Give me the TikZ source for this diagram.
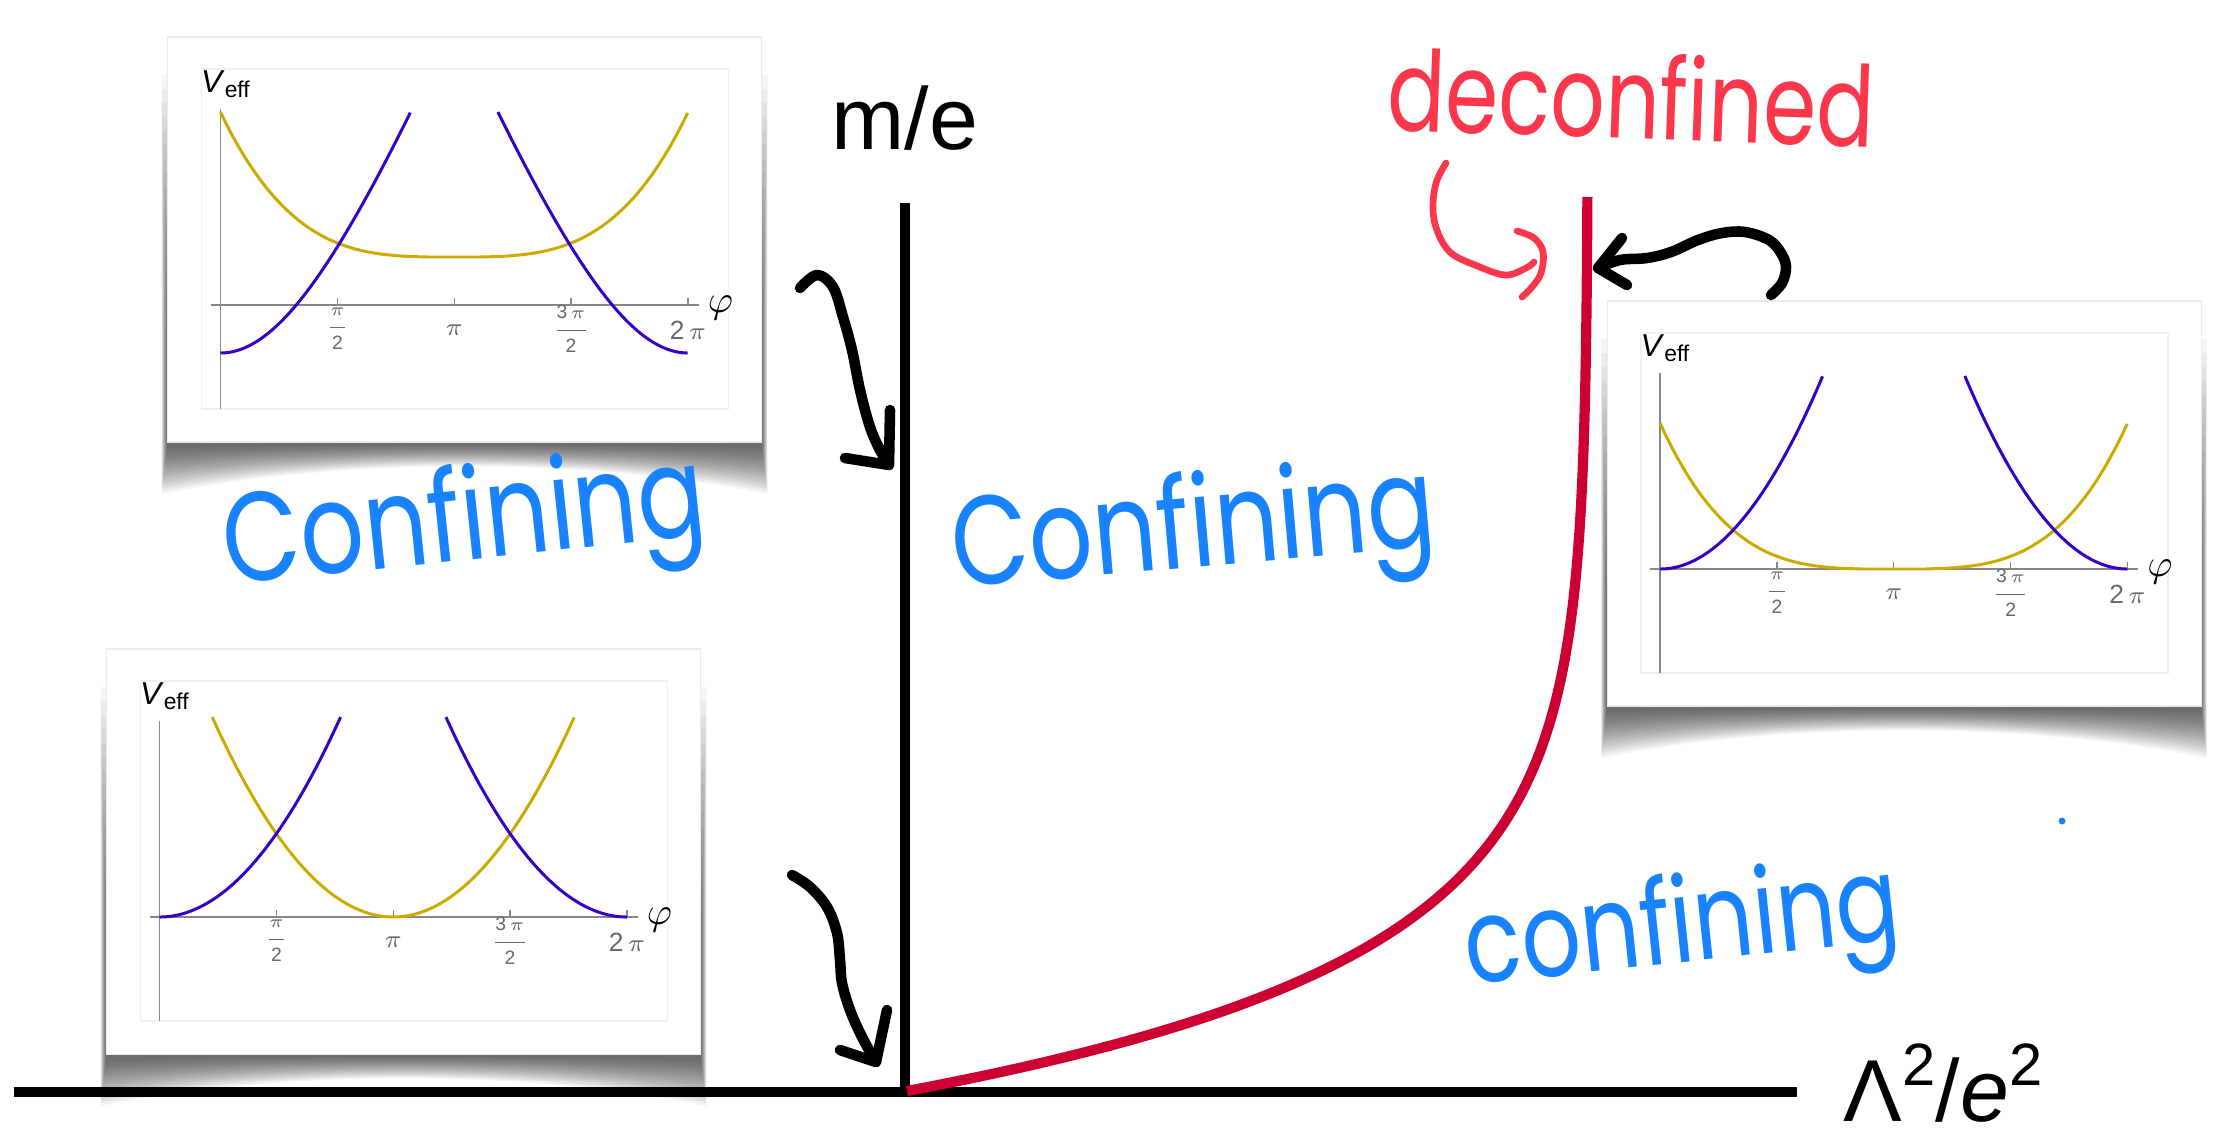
\documentclass[tikz,border=0pt]{standalone}
\usepackage{fontspec}
\setmainfont{Liberation Sans}
\newfontfamily\handfont{Poppins}
\definecolor{redcurve}{RGB}{204,0,51}
\definecolor{hand}{RGB}{25,130,255}
\definecolor{redhand}{RGB}{250,55,75}
\definecolor{vblue}{RGB}{55,0,200}
\definecolor{vyel}{RGB}{205,170,0}
\definecolor{axgray}{RGB}{135,135,135}
\definecolor{lblgray}{RGB}{105,105,105}

\newcommand\plotbase[3]{%
 \begin{scope}[shift={(#1,#2)}]
  \foreach \k in {0,...,19}{%
    \pgfmathsetmacro\dd{52-2.4*\k}%
    \pgfmathsetmacro\mm{15-0.7*\k}%
    \pgfmathsetmacro\ss{6-0.3*\k}%
    \pgfmathsetmacro\tt{-230+14*\k}%
    \fill[black,opacity=0.04] ({-53-\ss},\tt) -- ({-53-\ss},{137+\dd}) .. controls (125,{137+\mm}) and (363,{137+\mm}) .. ({541+\ss},{137+\dd}) -- ({541+\ss},\tt) -- cycle;
  }
  \fill[white, draw=black!8, line width=0.3pt] (-53,-268) rectangle (541,137);
  \draw[black!6, line width=0.4pt] (-19,-236) rectangle (508,104);
  \draw[axisline] (-10,0) -- (478,0);
  \draw[axisline] (0,-196) -- (0,104);
  \foreach \t in {0.25,0.5,0.75,1}{\draw[axisline] ({\t*467.5},0) -- ({\t*467.5},-7);}
  \node[fraclbl] (#3t1) at (116.9,24) {$\displaystyle\frac{\hbox{$\pi$}}{\hbox{2}}$};
  \node[ticklbl] (#3t2) at (233.75,25) {$\pi$};
  \node[fraclbl] (#3t3) at (350.6,24) {$\displaystyle\frac{\hbox{3\,$\pi$}}{\hbox{2}}$};
  \node[ticklbl] (#3t4) at (467.5,25) {2\,$\pi$};
  \node[inner sep=0pt, font=\fontsize{10.5}{12}\selectfont] (#3phi) at (500,3) {$\varphi$};
  \node[inner sep=0pt, anchor=west] (#3veff) at (-20,-221) {\fontsize{9}{10}\selectfont\textit{V}\raisebox{-1.3pt}{\fontsize{6.5}{7}\selectfont eff}};
 \end{scope}}

\begin{document}
\begin{tikzpicture}[x=0.01cm,y=-0.01cm,
  handarrow/.style={black, line width=3pt, line cap=round, line join=round},
  redarrow/.style={redhand, line width=1.9pt, line cap=round, line join=round},
  axisline/.style={axgray, line width=0.4pt},
  bluecurve/.style={vblue, line width=0.85pt},
  yelcurve/.style={vyel, line width=0.85pt},
  ticklbl/.style={lblgray, font=\fontsize{7.5}{8}\selectfont, inner sep=0pt},
  fraclbl/.style={lblgray, font=\fontsize{5.5}{6}\selectfont, inner sep=0pt},
  handtext/.style={hand, inner sep=0pt, anchor=base west},
]
\useasboundingbox (0,0) rectangle (2222,1129);
\fill[white] (0,0) rectangle (2222,1129);

% ---------- plot 1 (top left)
\plotbase{220.5}{305}{pa}
\begin{scope}[shift={(220.5,305)}]
  \draw[yelcurve] plot[domain=0:1, samples=80] ({\x*467.5},{-(48+1496*(abs(\x-0.5)+0.0001)^3.37)});
  \draw[bluecurve] plot[domain=0:0.4067, samples=50] ({\x*467.5},{-(352*(sqrt(1+(\x/0.3)^2)-1)-48)});
  \draw[bluecurve] plot[domain=0.5933:1, samples=50] ({\x*467.5},{-(352*(sqrt(1+((1-\x)/0.3)^2)-1)-48)});
\end{scope}

% ---------- plot 2 (bottom left)
\plotbase{159.5}{917}{pb}
\begin{scope}[shift={(159.5,917)}]
  \draw[yelcurve] plot[domain=0.1127:0.8873, samples=60] ({\x*467.5},{-(1333*(\x-0.5)^2)});
  \draw[bluecurve] plot[domain=0:0.3873, samples=50] ({\x*467.5},{-(1333*\x^2)});
  \draw[bluecurve] plot[domain=0.6127:1, samples=50] ({\x*467.5},{-(1333*(1-\x)^2)});
\end{scope}

% ---------- plot 3 (right)
\plotbase{1660}{569}{pc}
\begin{scope}[shift={(1660,569)}]
  \draw[yelcurve] plot[domain=0:1, samples=80] ({\x*467.5},{-(1674*(abs(\x-0.5)+0.0001)^3.52)});
  \draw[bluecurve] plot[domain=0:0.348, samples=50] ({\x*467.5},{-(1594*\x^2)});
  \draw[bluecurve] plot[domain=0.652:1, samples=50] ({\x*467.5},{-(1594*(1-\x)^2)});
\end{scope}

% ---------- main axes
\coordinate (O) at (905,1092);
\coordinate (Ytop) at (905,203);
\coordinate (Xl) at (14,1092);
\coordinate (Xr) at (1797,1092);
\draw[black, line width=3.1pt] (Xl) -- (Xr);
\draw[black, line width=2.9pt] (O) -- (Ytop);
\node[inner sep=0pt, anchor=base, font=\fontsize{25}{30}\selectfont] (me) at (905,149) {m/e};
\node[inner sep=0pt, anchor=base west, font=\fontsize{25}{30}\selectfont] (lam) at (1843,1121)
  {Λ\raisebox{0.4em}{\fontsize{17}{20}\selectfont 2}/\textit{e}\raisebox{0.4em}{\fontsize{17}{20}\selectfont 2}};

% ---------- phase boundary
\draw[redcurve, line width=2.9pt] plot[domain=0:894, samples=160] ({1588-681*exp(-\x/128)},{1091-\x});

% ---------- hand-drawn arrows
\coordinate (a1s) at (800,288);
\coordinate (a1t) at (889,465);
\draw[handarrow] plot[smooth, tension=0.6] coordinates {(a1s) (817,275) (833,287) (843,317) (852,350) (860,390) (870,427) (880,450) (a1t)};
\draw[handarrow] (845,458) -- (a1t) -- (890,410);

\coordinate (a2s) at (792,875);
\coordinate (a2t) at (876,1062);
\draw[handarrow] plot[smooth, tension=0.6] coordinates {(a2s) (810,887) (827,907) (837,933) (840,960) (842,983) (850,1010) (862,1037) (a2t)};
\draw[handarrow] (840,1050) -- (a2t) -- (887,1010);

\coordinate (a3s) at (1771,295);
\coordinate (a3t) at (1598,268);
\draw[handarrow] plot[smooth, tension=0.6] coordinates {(a3s) (1782,283) (1786,267) (1781,253) (1769,240) (1745,232) (1722,233) (1698,240) (1671,252) (1647,258) (1620,260) (a3t)};
\draw[handarrow] (1622,238) -- (a3t) -- (1627,285);

\coordinate (r1s) at (1446,163);
\coordinate (r1t) at (1534,262);
\draw[redarrow] plot[smooth, tension=0.6] coordinates {(r1s) (1436,183) (1433,210) (1438,233) (1451,253) (1475,265) (1505,275) (1526,268) (r1t)};
\draw[redarrow] plot[smooth, tension=0.6] coordinates {(1517,231) (1534,238) (1543,252) (1541,273) (1532,287) (1522,297)};

% ---------- handwritten labels
\node[handtext, rotate=6, font=\handfont\fontsize{30}{36}\selectfont] (conf1) at (227,585) {\scalebox{0.95}[1.2]{Confining}};
\node[handtext, rotate=5, font=\handfont\fontsize{30}{36}\selectfont] (conf2) at (955,588) {\scalebox{0.95}[1.2]{Confining}};
\node[handtext, rotate=6, font=\handfont\fontsize{28}{34}\selectfont] (conf3) at (1468,985) {\scalebox{0.95}[1.2]{confining}};
\node[handtext, redhand, rotate=-2, font=\handfont\fontsize{25.6}{30}\selectfont] (deconf) at (1386,130) {\scalebox{0.95}[1.25]{deconfined}};
\fill[hand] (2062,821) circle (3.5);
\end{tikzpicture}
\end{document}
